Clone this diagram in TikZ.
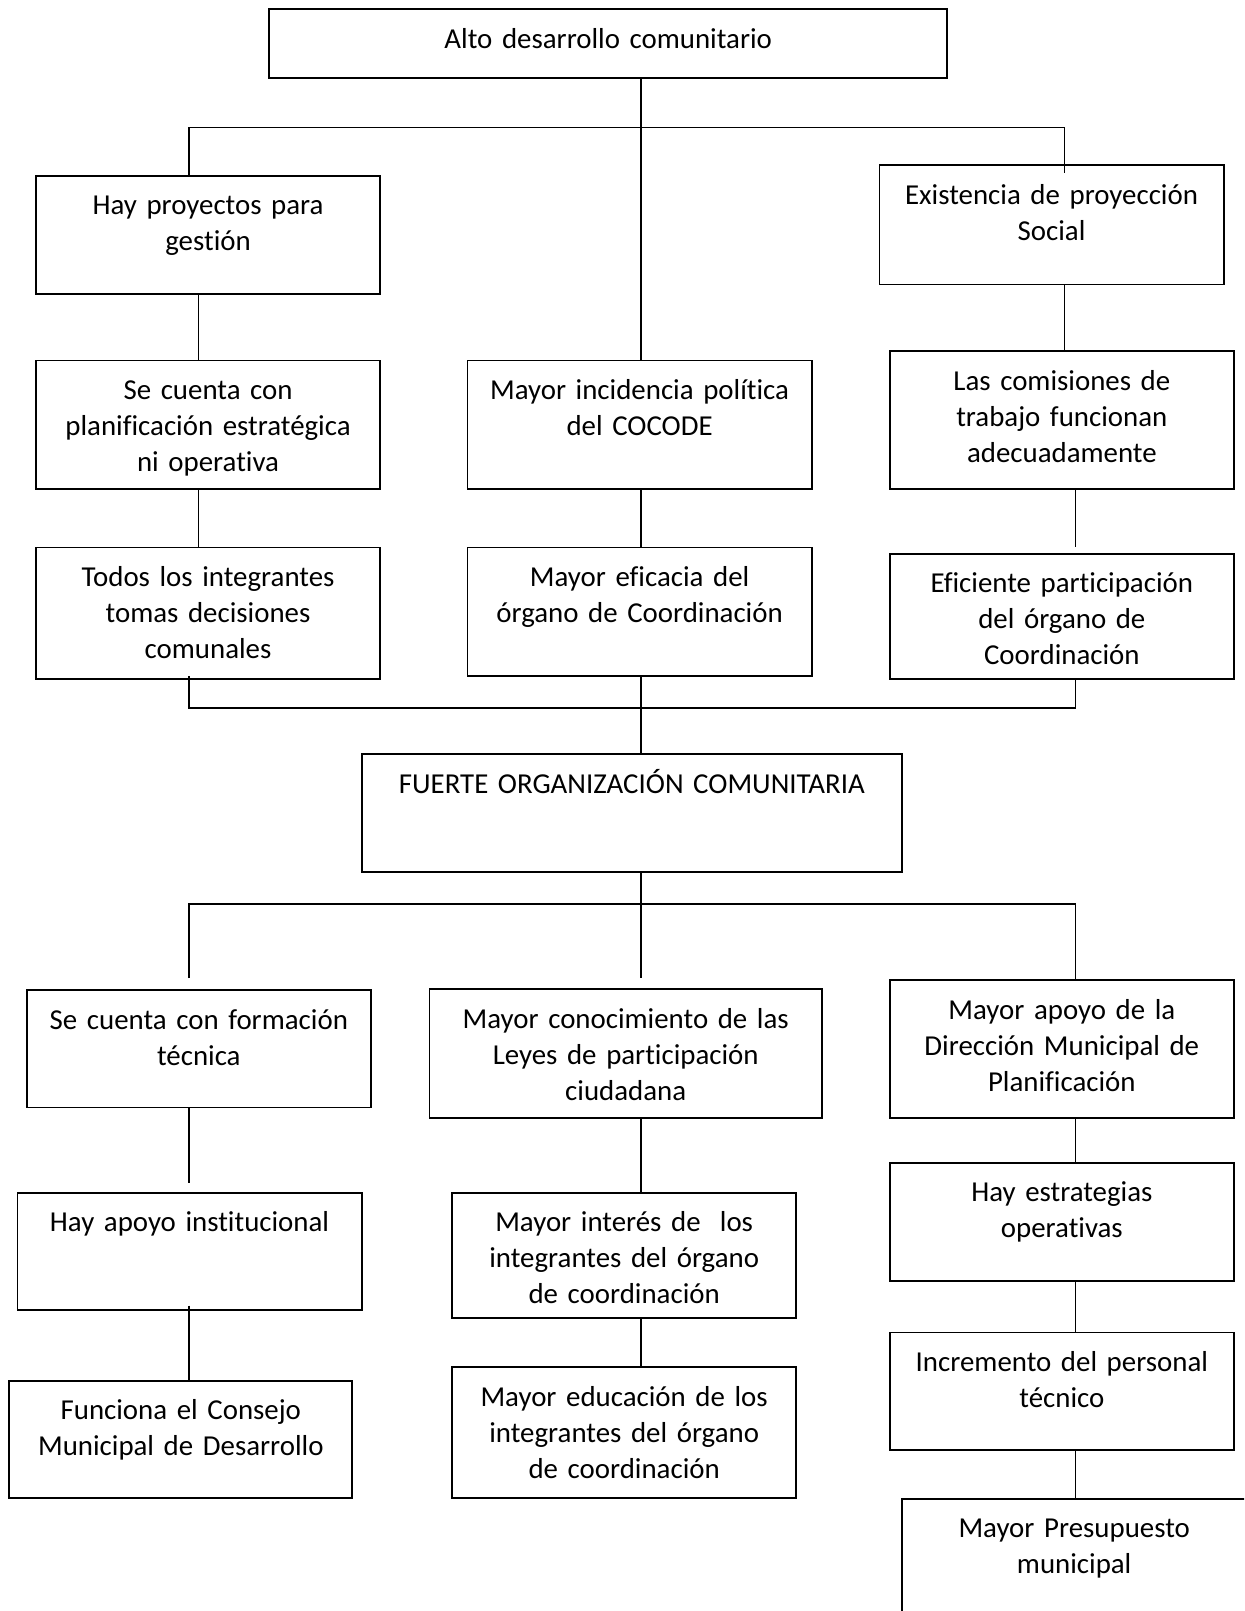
\documentclass[tikz,border=0pt]{standalone}
\usepackage{fontspec}
\setmainfont{Carlito}[Ligatures={NoCommon,NoContextual,NoRequired}, Contextuals=NoAlternate]
\usetikzlibrary{positioning, calc}

\tikzset{
  caja/.style 2 args={draw, line width=1.8pt, anchor=north, align=center,
    inner xsep=5pt, inner ysep=0pt, text width=#1pt-10pt,
    text height=38pt, text depth=#2pt-38pt,
    font=\fontsize{28.1}{35}\selectfont},
  enlace/.style={line width=1.3pt},
}

\begin{document}
\begin{tikzpicture}[x=1pt, y=-1pt]
  \useasboundingbox (0,0) rectangle (1211,1568);
  \clip (0,0) rectangle (1211,1568);

  % top level
  \node[caja={660}{67}] (A) at (592,8) {Alto desarrollo comunitario};

  \node[caja={335}{115}] (B1) at (202.5,170) {Hay proyectos para\\gestión};
  \node[caja={335}{116}] (C1) at (1023.5,160) {Existencia de proyección\\Social};

  \node[caja={335}{125}] (B2) at (202.5,350) {Se cuenta con\\planificación estratégica\\ni operativa};
  \node[caja={335}{125}] (M2) at (622.5,350) {Mayor incidencia política\\del COCODE};
  \node[caja={335}{134}] (C2) at (1033.5,341) {Las comisiones de\\trabajo funcionan\\adecuadamente};

  \node[caja={335}{128}] (B3) at (202.5,532) {Todos los integrantes\\tomas decisiones\\comunales};
  \node[caja={335}{125}] (M3) at (622.5,532) {Mayor eficacia del\\órgano de Coordinación};
  \node[caja={335}{122}] (C3) at (1033.5,538) {Eficiente participación\\del órgano de\\Coordinación};

  % middle
  \node[caja={526}{115}] (D) at (615,733) {FUERTE ORGANIZACIÓN COMUNITARIA};

  % lower level
  \node[caja={335}{114}] (E1) at (193.5,963) {Se cuenta con formación\\técnica};
  \node[caja={382}{125}] (E2) at (609,962) {Mayor conocimiento de las\\Leyes de participación\\ciudadana};
  \node[caja={335}{134}] (E3) at (1033.5,953) {Mayor apoyo de la\\Dirección Municipal de\\Planificación};

  \node[caja={335}{114}] (F1) at (184.5,1160) {Hay apoyo institucional};
  \node[caja={335}{122}] (F2) at (607.5,1160) {Mayor interés de\ \ los\\integrantes del órgano\\de coordinación};
  \node[caja={335}{115}] (F3) at (1033.5,1131) {Hay estrategias\\operativas};

  \node[caja={334}{114}] (G1) at (176,1343) {Funciona el Consejo\\Municipal de Desarrollo};
  \node[caja={335}{127}] (G2) at (607.5,1330) {Mayor educación de los\\integrantes del órgano\\de coordinación};
  \node[caja={335}{114}] (H3) at (1033.5,1296) {Incremento del personal\\técnico};
  \node[caja={335}{130}] (I3) at (1045.5,1458) {Mayor Presupuesto\\municipal};

  % connector columns and bars
  \coordinate (xa) at (184,0);
  \coordinate (xb) at (193,0);
  \coordinate (xm) at (624,0);
  \coordinate (xc) at (1036,0);
  \coordinate (xd) at (1047,0);
  \coordinate (barUp) at (0,124);
  \coordinate (barMid) at (0,689);
  \coordinate (barLow) at (0,880);

  % upper tree
  \draw[enlace] (xm |- A.south) -- (xm |- M2.north);
  \draw[enlace] (xa |- B1.north) -- (xa |- barUp) -- (xc |- barUp) -- ([yshift=-8pt]xc |- C1.north);
  \draw[enlace] (xb |- B1.south) -- (xb |- B2.north);
  \draw[enlace] (xb |- B2.south) -- (xb |- B3.north);
  \draw[enlace] (xc |- C1.south) -- (xc |- C2.north);
  \draw[enlace] (xm |- M2.south) -- (xm |- M3.north);
  \draw[enlace, shorten >=6pt] (xd |- C2.south) -- (xd |- C3.north);

  % merge into the middle box
  \draw[enlace] ([yshift=4pt]xa |- B3.south) -- (xa |- barMid) -- (xd |- barMid) -- (xd |- C3.south);
  \draw[enlace] (xm |- M3.south) -- (xm |- D.north);

  % lower tree
  \draw[enlace, shorten >=10pt] (xm |- D.south) -- (xm |- E2.north);
  \draw[enlace, shorten <=11pt] (xa |- E1.north) -- (xa |- barLow) -- (xd |- barLow) -- (xd |- E3.north);
  \draw[enlace, shorten >=9pt] (xa |- E1.south) -- (xa |- F1.north);
  \draw[enlace] ([yshift=5pt]xa |- F1.south) -- (xa |- G1.north);
  \draw[enlace] (xm |- E2.south) -- (xm |- F2.north);
  \draw[enlace] (xm |- F2.south) -- (xm |- G2.north);
  \draw[enlace] (xd |- E3.south) -- (xd |- F3.north);
  \draw[enlace] (xd |- F3.south) -- (xd |- H3.north);
  \draw[enlace] (xd |- H3.south) -- (xd |- I3.north);
\end{tikzpicture}
\end{document}
